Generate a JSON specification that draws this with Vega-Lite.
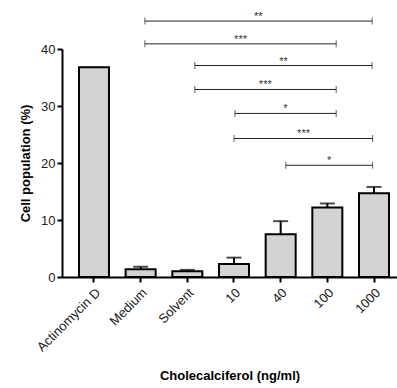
{
  "$schema": "https://vega.github.io/schema/vega-lite/v6.json",
  "width": 335,
  "height": 228,
  "autosize": {"type": "none"},
  "padding": {"left": 62, "top": 49, "right": 0, "bottom": 111},
  "config": {
    "view": {"stroke": null},
    "font": "Liberation Sans",
    "axis": {"grid": false}
  },
  "datasets": {
    "bars": [
      {"group": "Actinomycin D", "value": 36.8, "hi": null},
      {"group": "Medium", "value": 1.35, "hi": 1.8},
      {"group": "Solvent", "value": 1.0, "hi": 1.25},
      {"group": "10", "value": 2.3, "hi": 3.4},
      {"group": "40", "value": 7.5, "hi": 9.8},
      {"group": "100", "value": 12.2, "hi": 12.9},
      {"group": "1000", "value": 14.7, "hi": 15.8}
    ],
    "sig": [
      {"from": 1.09, "to": 5.96, "y": 44.9, "mid": 3.52, "label": "**"},
      {"from": 1.09, "to": 5.19, "y": 40.9, "mid": 3.14, "label": "***"},
      {"from": 2.16, "to": 5.96, "y": 37.1, "mid": 4.06, "label": "**"},
      {"from": 2.16, "to": 5.19, "y": 32.9, "mid": 3.67, "label": "***"},
      {"from": 3.02, "to": 5.19, "y": 28.7, "mid": 4.1, "label": "*"},
      {"from": 3.0, "to": 5.97, "y": 24.3, "mid": 4.49, "label": "***"},
      {"from": 4.11, "to": 5.97, "y": 19.6, "mid": 5.04, "label": "*"}
    ]
  },
  "resolve": {"scale": {"x": "independent"}},
  "layer": [
    {
      "data": {"name": "bars"},
      "encoding": {
        "x": {
          "field": "group",
          "type": "nominal",
          "sort": null,
          "scale": {"paddingInner": 0.357, "paddingOuter": 0.2675, "align": 0.68},
          "axis": {
            "title": "Cholecalciferol (ng/ml)",
            "titleFontSize": 13,
            "titleFontWeight": "bold",
            "titleColor": "#000",
            "titlePadding": 16,
            "labelAngle": -45,
            "labelFontSize": 13,
            "labelColor": "#222",
            "labelPadding": 4,
            "domainColor": "#000",
            "domainWidth": 2,
            "tickColor": "#000",
            "tickWidth": 2,
            "tickSize": 5
          }
        }
      },
      "layer": [
        {
          "mark": {"type": "bar", "fill": "#d3d3d3", "stroke": "#000", "strokeWidth": 2},
          "encoding": {
            "y": {
              "field": "value",
              "type": "quantitative",
              "scale": {"domain": [0, 40], "nice": false},
              "axis": {
                "title": "Cell population (%)",
                "titleFontSize": 13,
                "titleFontWeight": "bold",
                "titleColor": "#000",
                "titlePadding": 8,
                "values": [0, 10, 20, 30, 40],
                "labelFontSize": 13,
                "labelColor": "#222",
                "labelPadding": 2,
                "domainColor": "#000",
                "domainWidth": 2,
                "tickColor": "#000",
                "tickWidth": 2,
                "tickSize": 5
              }
            }
          }
        },
        {
          "transform": [{"filter": {"field": "hi", "valid": true}}],
          "mark": {"type": "rule", "color": "#000", "strokeWidth": 2},
          "encoding": {
            "y": {"field": "value", "type": "quantitative"},
            "y2": {"field": "hi"}
          }
        },
        {
          "transform": [{"filter": {"field": "hi", "valid": true}}],
          "mark": {"type": "tick", "color": "#000", "thickness": 2, "size": 15, "orient": "horizontal"},
          "encoding": {
            "y": {"field": "hi", "type": "quantitative"}
          }
        }
      ]
    },
    {
      "data": {"name": "sig"},
      "encoding": {
        "y": {"field": "y", "type": "quantitative"}
      },
      "layer": [
        {
          "mark": {"type": "rule", "color": "#222", "strokeWidth": 1},
          "encoding": {
            "x": {"field": "from", "type": "quantitative", "scale": {"domain": [-0.686, 6.493], "nice": false, "zero": false}, "axis": null},
            "x2": {"field": "to"}
          }
        },
        {
          "mark": {"type": "tick", "color": "#222", "thickness": 1, "size": 7, "orient": "vertical"},
          "encoding": {
            "x": {"field": "from", "type": "quantitative"}
          }
        },
        {
          "mark": {"type": "tick", "color": "#222", "thickness": 1, "size": 7, "orient": "vertical"},
          "encoding": {
            "x": {"field": "to", "type": "quantitative"}
          }
        },
        {
          "mark": {"type": "text", "fontSize": 11, "fill": "#333", "baseline": "alphabetic", "dy": -1},
          "encoding": {
            "x": {"field": "mid", "type": "quantitative"},
            "text": {"field": "label"}
          }
        }
      ]
    }
  ]
}
